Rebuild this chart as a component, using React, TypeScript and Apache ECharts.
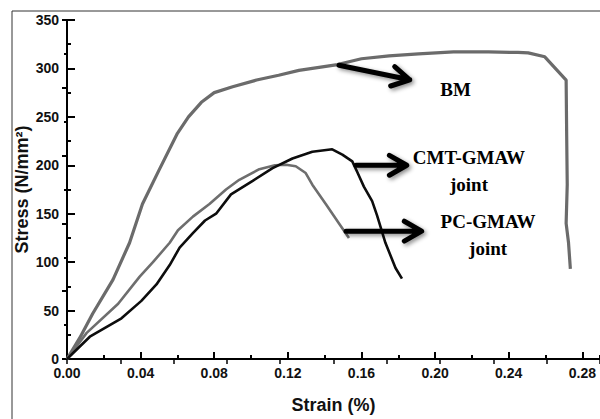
import React, { useEffect, useRef } from "react";
import * as echarts from "echarts";

// Strain (%) vs Stress (N/mm²)
const bmData: [number, number][] = [
  [0, 0], [0.007, 22], [0.014, 47], [0.025, 82], [0.034, 120], [0.041, 160], [0.05, 195],
  [0.06, 233], [0.066, 250], [0.073, 265], [0.08, 275], [0.09, 281], [0.103, 288],
  [0.115, 293], [0.126, 298], [0.147, 304], [0.16, 310], [0.175, 313], [0.191, 315],
  [0.21, 317], [0.229, 317], [0.245, 316.5], [0.2506, 316], [0.2596, 312], [0.2712, 288],
  [0.2715, 230], [0.2718, 180], [0.2712, 140], [0.2725, 120], [0.2735, 93],
];
const pcData: [number, number][] = [
  [0, 0], [0.0107, 27], [0.0278, 57], [0.0395, 85], [0.0467, 100], [0.0558, 120],
  [0.0603, 133], [0.0684, 147], [0.0774, 160], [0.0864, 175], [0.0936, 185], [0.1045, 196],
  [0.113, 200], [0.119, 200.5], [0.1243, 199], [0.1297, 192], [0.1333, 180], [0.1406, 160],
  [0.1478, 140], [0.1532, 125],
];
const cmtData: [number, number][] = [
  [0, 0], [0.0124, 23], [0.0296, 42], [0.0404, 60], [0.0486, 77], [0.0558, 97],
  [0.0612, 115], [0.0684, 130], [0.075, 143], [0.081, 150], [0.0891, 170], [0.1009, 184],
  [0.1117, 197], [0.1225, 207], [0.1333, 214], [0.1441, 216.5], [0.1496, 211], [0.155, 204],
  [0.1577, 193], [0.1613, 178], [0.1658, 163], [0.1685, 148], [0.173, 120], [0.1785, 94],
  [0.182, 83],
];

const X_MAX = 0.2896;
const X_INTERVAL = 0.04;
const Y_MAX = 350;
const Y_INTERVAL = 50;

// annotation anchors in data coordinates
const annotations = [
  { text: "BM", textAt: [0.2111, 278], from: [0.1478, 303.3], to: [0.1862, 288.3] },
  { text: "CMT-GMAW\njoint", textAt: [0.2184, 194.5], from: [0.157, 200], to: [0.1846, 200] },
  { text: "PC-GMAW\njoint", textAt: [0.2288, 128.3], from: [0.1516, 132], to: [0.1927, 132] },
];

export default function App() {
  const ref = useRef<HTMLDivElement>(null);
  useEffect(() => {
    document.body.style.margin = "0";
    const chart = echarts.init(ref.current!, null, { renderer: "svg" });
    const labelFont = {
      fontFamily: '"Liberation Sans", Arial, sans-serif',
      fontWeight: "bold" as const,
      fontSize: 14,
      color: "#111",
    };
    const nameFont = {
      fontFamily: '"Liberation Sans", Arial, sans-serif',
      fontWeight: "bold" as const,
      fontSize: 18,
      color: "#111",
    };
    const black = { color: "#000", width: 2 };
    chart.setOption({
      animation: false,
      backgroundColor: "#fff",
      grid: { left: 67, top: 20, width: 535, height: 350 },
      xAxis: [
        {
          type: "value", position: "bottom", min: 0, max: X_MAX, interval: X_INTERVAL,
          name: "Strain (%)", nameLocation: "middle", nameGap: 37, nameTextStyle: nameFont,
          axisLine: { show: true, onZero: false, lineStyle: black },
          axisTick: { show: true, inside: true, length: 7, lineStyle: black },
          splitLine: { show: false },
          axisLabel: { ...labelFont, margin: 7, showMaxLabel: false, formatter: (v: number) => v.toFixed(2) },
        },
        {
          type: "value", position: "top", min: 0, max: 10, interval: 1,
          axisLine: { show: true, lineStyle: { color: "#000", width: 1.5 } },
          axisTick: { show: true, inside: true, length: 5, lineStyle: { color: "#000", width: 1.5 } },
          axisLabel: { show: false }, splitLine: { show: false },
        },
        {
          type: "value", position: "bottom", min: 0, max: X_MAX, interval: X_INTERVAL / 2,
          axisLine: { show: false },
          axisTick: { show: true, inside: true, length: 4, lineStyle: black },
          axisLabel: { show: false }, splitLine: { show: false },
        },
      ],
      yAxis: [
        {
          type: "value", position: "left", min: 0, max: Y_MAX, interval: Y_INTERVAL,
          name: "Stress (N/mm²)", nameLocation: "middle", nameGap: 36, nameRotate: 90,
          nameMoveOverlap: false, nameTextStyle: nameFont,
          axisLine: { show: true, lineStyle: black },
          axisTick: { show: true, inside: true, length: 8, lineStyle: black },
          minorTick: { show: true, splitNumber: 2, length: 4, lineStyle: black },
          splitLine: { show: false },
          axisLabel: { ...labelFont, margin: 8 },
        },
        {
          type: "value", position: "right", min: 0, max: 5, interval: 1,
          axisLine: { show: true, lineStyle: black },
          axisTick: { show: true, inside: true, length: 5, lineStyle: black },
          minorTick: { show: true, splitNumber: 2, length: 3, lineStyle: black },
          axisLabel: { show: false }, splitLine: { show: false },
        },
      ],
      series: [
        { name: "BM", type: "line", data: bmData, showSymbol: false, lineStyle: { color: "#6b6b6b", width: 3.2 }, z: 2 },
        { name: "PC-GMAW joint", type: "line", data: pcData, showSymbol: false, lineStyle: { color: "#6e6e6e", width: 2.6 }, z: 3 },
        { name: "CMT-GMAW joint", type: "line", data: cmtData, showSymbol: false, lineStyle: { color: "#0d0d0d", width: 2.6 }, z: 4 },
      ],
    });

    const px = (p: number[]) => chart.convertToPixel({ xAxisIndex: 0, yAxisIndex: 0 }, p) as number[];
    const arrowStyle = {
      stroke: "#000", lineWidth: 5, lineCap: "round", lineJoin: "round",
      shadowBlur: 4, shadowColor: "rgba(0,0,0,0.45)", shadowOffsetX: 2, shadowOffsetY: 2,
      fill: "rgba(0,0,0,0)",
    };
    const graphics: any[] = [
      { type: "rect", shape: { x: 12, y: 11, width: 700, height: 500 }, style: { fill: "rgba(0,0,0,0)", stroke: "#333", lineWidth: 1 }, silent: true, z: -1 },
    ];
    annotations.forEach((a) => {
      const s = px(a.from);
      const t = px(a.to);
      const ang = Math.atan2(t[1] - s[1], t[0] - s[0]);
      const L = 20, half = 0.52;
      const arm1 = [t[0] - L * Math.cos(ang - half), t[1] - L * Math.sin(ang - half)];
      const arm2 = [t[0] - L * Math.cos(ang + half), t[1] - L * Math.sin(ang + half)];
      graphics.push({ type: "polyline", shape: { points: [s, t, arm1, t, arm2] }, style: arrowStyle, z: 100 });
      const p = px(a.textAt);
      graphics.push({
        type: "text", x: p[0], y: p[1], z: 100,
        style: {
          text: a.text, fill: "#000", fontFamily: '"Liberation Serif", "Times New Roman", serif',
          fontWeight: "bold", fontSize: 19, align: "center", verticalAlign: "middle", lineHeight: 27,
        },
      });
    });
    chart.setOption({ graphic: graphics });
    return () => chart.dispose();
  }, []);
  return <div ref={ref} style={{ width: 600, height: 419 }} />;
}
